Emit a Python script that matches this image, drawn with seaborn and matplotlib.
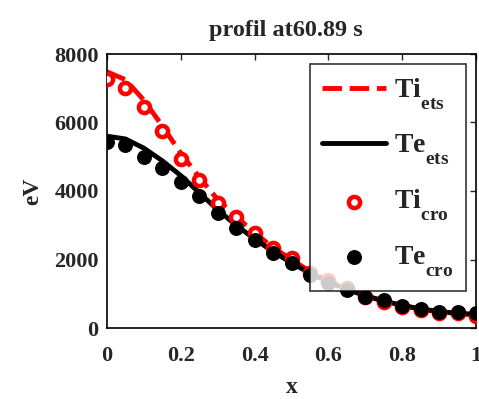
import numpy as np
import pandas as pd
import matplotlib
matplotlib.use("Agg")
import matplotlib.pyplot as plt
import matplotlib._mathtext as _mt
import seaborn as sns

# data
x_grid = [0.0, 0.05, 0.1, 0.15, 0.2, 0.25, 0.3, 0.35, 0.4, 0.45, 0.5,
          0.55, 0.6, 0.65, 0.7, 0.75, 0.8, 0.85, 0.9, 0.95, 1.0]
ti_ets = [7480, 7250, 6650, 5900, 5100, 4400, 3750, 3250, 2780, 2350, 2000,
          1650, 1380, 1150, 950, 780, 650, 550, 470, 420, 380]
te_ets = [5600, 5520, 5250, 4880, 4450, 3950, 3450, 3000, 2600, 2230, 1900,
          1600, 1350, 1130, 940, 790, 660, 560, 480, 430, 400]
ti_cro = [7270, 7000, 6450, 5750, 4930, 4320, 3650, 3240, 2770, 2330, 2040,
          1600, 1400, 1170, 900, 760, 620, 530, 440, 430, 350]
te_cro = [5430, 5340, 5000, 4670, 4260, 3850, 3360, 2920, 2570, 2190, 1900,
          1550, 1300, 1110, 910, 820, 640, 550, 470, 470, 440]
x_ticks = [0, 0.2, 0.4, 0.6, 0.8, 1]
x_ticklabels = ["0", "0.2", "0.4", "0.6", "0.8", "1"]
y_ticks = [0, 2000, 4000, 6000, 8000]
title = "profil at60.89 s"

sns.set_style("white")
plt.rcParams['font.family'] = ['Liberation Serif', 'DejaVu Serif']
plt.rcParams['font.weight'] = 'bold'
plt.rcParams['mathtext.fontset'] = 'custom'
plt.rcParams['mathtext.rm'] = 'Liberation Serif:bold'
plt.rcParams['mathtext.it'] = 'Liberation Serif:bold'
plt.rcParams['mathtext.bf'] = 'Liberation Serif:bold'
# deeper subscripts like the reference
_mt.FontConstantsBase.sub1 = 0.95
_mt.FontConstantsBase.sub2 = 1.0

fig = plt.figure(figsize=(4.79, 3.99), dpi=100)
ax = fig.add_axes([107/479, 1-328/399, (476-107)/479, (328-54)/399])

df = pd.DataFrame({"x": x_grid, "ti_ets": ti_ets, "te_ets": te_ets,
                   "ti_cro": ti_cro, "te_cro": te_cro})

sns.lineplot(data=df, x="x", y="ti_ets", ax=ax, color="red", lw=3.5,
             linestyle=(0, (4.0, 1.6)), label=r"Ti$_{ets}$")
sns.lineplot(data=df, x="x", y="te_ets", ax=ax, color="black", lw=3.5,
             label=r"Te$_{ets}$")
sns.scatterplot(data=df, x="x", y="ti_cro", ax=ax, marker="o", s=65,
                facecolor="white", edgecolor="red", linewidth=3.2,
                label=r"Ti$_{cro}$", zorder=3)
sns.scatterplot(data=df, x="x", y="te_cro", ax=ax, marker="o", s=95,
                color="black", edgecolor="black", linewidth=1,
                label=r"Te$_{cro}$", zorder=4)

ax.set_xlim(0, 1)
ax.set_ylim(0, 8000)
ax.set_xticks(x_ticks)
ax.set_xticklabels(x_ticklabels)
ax.set_yticks(y_ticks)
ax.tick_params(direction='in', top=True, right=True, length=4, width=1,
               labelsize=16)
ax.tick_params(axis='x', pad=13)
ax.tick_params(axis='y', pad=6)
for lab in ax.get_xticklabels() + ax.get_yticklabels():
    lab.set_fontweight('bold')
for s in ax.spines.values():
    s.set_linewidth(1.2)
    s.set_color('black')
ax.set_xlabel("x", fontsize=17, fontweight='bold', labelpad=8)
ax.set_ylabel("eV", fontsize=17, fontweight='bold', labelpad=8)
ax.set_title(title, fontsize=17.5, fontweight='bold', pad=13, x=0.485)

leg = ax.legend(loc='upper right', bbox_to_anchor=(0.973, 0.963),
                borderaxespad=0.0,
                fontsize=20, frameon=True, fancybox=False, edgecolor='black',
                handlelength=2.3, labelspacing=0.75, borderpad=0.45,
                handletextpad=0.3, markerscale=1.0)
leg.get_frame().set_linewidth(1.2)

fig.savefig("out.png", dpi=100)
